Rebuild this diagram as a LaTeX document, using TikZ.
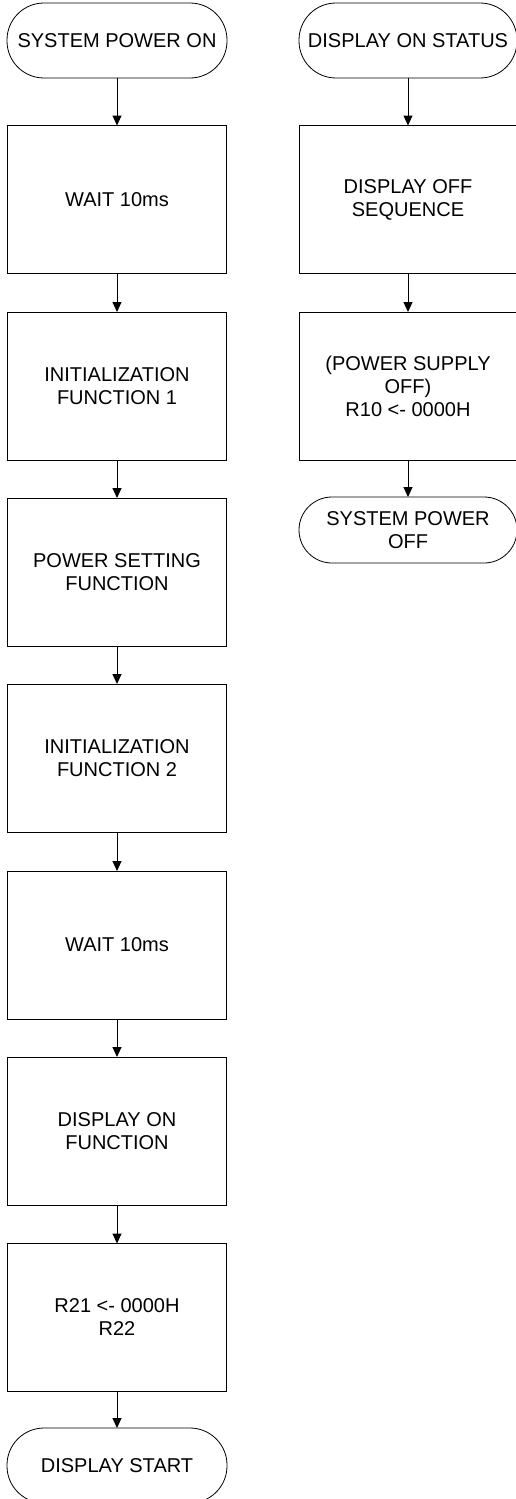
\documentclass[tikz,border=0pt]{standalone}
\usepackage{fontspec}
\setmainfont{Liberation Sans}
\usetikzlibrary{arrows.meta}
\begin{document}
\begin{tikzpicture}[x=1pt,y=-1pt,
  every node/.style={font=\fontsize{20}{23}\selectfont, align=center, inner sep=0pt, outer sep=0pt},
  procbox/.style={draw=black, line width=1pt, rectangle, minimum width=219pt, minimum height=148pt},
  termbig/.style={draw=black, line width=0.8pt, rectangle, rounded corners=37pt, minimum width=220pt, minimum height=75pt},
  termsmall/.style={draw=black, line width=0.8pt, rectangle, rounded corners=33pt, minimum width=218pt, minimum height=66pt},
  flow/.style={draw=black, line width=1pt, -{Triangle[width=9pt,length=10pt]}}]
\useasboundingbox (0,0) rectangle (516,1499);
% left column
\node[termbig] (t1) at (117,40.5) {SYSTEM POWER ON};
\node[procbox] (b1) at (117,199.5) {WAIT 10ms};
\node[procbox] (b2) at (117,386) {INITIALIZATION\\FUNCTION 1};
\node[procbox] (b3) at (117,572) {POWER SETTING\\FUNCTION};
\node[procbox] (b4) at (117,758) {INITIALIZATION\\FUNCTION 2};
\node[procbox] (b5) at (117,945) {WAIT 10ms};
\node[procbox] (b6) at (117,1131) {DISPLAY ON\\FUNCTION};
\node[procbox] (b7) at (117,1317.5) {R21 <- 0000H\\R22};
\node[termbig] (t2) at (117,1465.5) {DISPLAY START};
\draw[flow] (t1) -- (b1);
\draw[flow] (b1) -- (b2);
\draw[flow] (b2) -- (b3);
\draw[flow] (b3) -- (b4);
\draw[flow] (b4) -- (b5);
\draw[flow] (b5) -- (b6);
\draw[flow] (b6) -- (b7);
\draw[flow] (b7) -- (t2);
% right column
\node[termbig, minimum width=218pt] (r1) at (408,40.5) {DISPLAY ON STATUS};
\node[procbox, minimum width=218pt] (rb1) at (408,199.5) {DISPLAY OFF\\SEQUENCE};
\node[procbox, minimum width=218pt] (rb2) at (408,386) {(POWER SUPPLY\\OFF)\\R10 <- 0000H};
\node[termsmall] (r2) at (408,530) {SYSTEM POWER\\OFF};
\draw[flow] (r1) -- (rb1);
\draw[flow] (rb1) -- (rb2);
\draw[flow] (rb2) -- (r2);
\end{tikzpicture}
\end{document}
